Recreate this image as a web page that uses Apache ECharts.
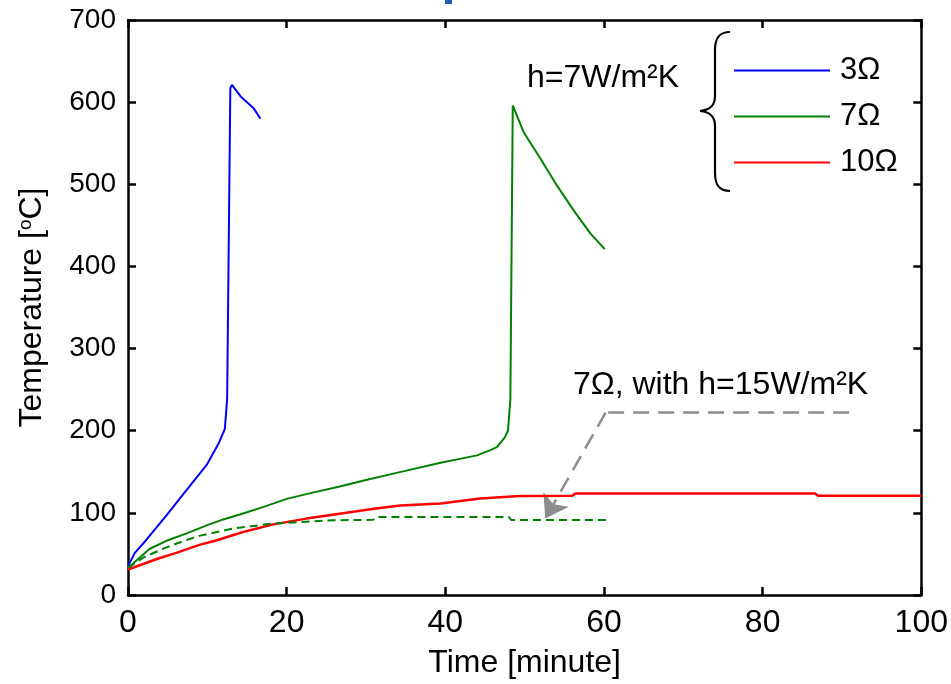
<!DOCTYPE html>
<html>
<head>
<meta charset="utf-8">
<script src="https://cdn.jsdelivr.net/npm/echarts@6/dist/echarts.min.js"></script>
<style>
  html, body { margin: 0; padding: 0; background: #fff; }
  #chart { width: 951px; height: 684px; }
</style>
</head>
<body>
<div id="chart"></div>
<script>
// 3 ohm, h=7 (time [min], temperature [C])
const blue3 = [[0,35],[0.84,51],[2.3,67],[4.85,97],[7.4,128],[9.9,158],[11.4,184],[12.2,202],[12.4,226],[12.5,240],[12.9,617],[13.1,621],[14.2,607],[15.8,593],[16.7,580]]
// 7 ohm, h=7
const green7 = [[0,33],[2.7,56],[4.85,66],[7.4,75],[10,85],[12,92],[14.1,98],[17,107],[20,117],[23,124],[26.7,132],[30,140],[34,149],[39.4,161],[42,166],[44,170],[45.6,176],[46.5,180],[47.5,192],[47.9,200],[48.2,238],[48.5,596],[49.9,563],[52,531],[54.1,498],[56.2,468],[58.3,440],[60.1,421]]
// 10 ohm, h=7
const red10 = [[0,31],[2,38],[4,45],[6,51],[9,61],[11,66],[13.3,73],[15,78],[18.3,86],[22.5,93],[26,98],[31,105],[34.3,109],[39.4,111.5],[44.4,117.5],[49.4,120.5],[56,120.7],[56.4,123.5],[86.6,123.5],[87,120.7],[100,120.7]]
// 7 ohm, h=15 (dashed)
const green7h15 = [[0,33],[2,46],[4.85,58],[7.4,67],[9,72],[13.3,81],[18.3,87],[22,89],[25.9,91],[30.9,91.5],[31.3,95],[48,95],[48.3,91.3],[60.4,91.3]]
// annotation arrow: horizontal leader, then slanted part ending in the arrow head
const leaderLine = [[90.9,222],[60.2,222]]
const arrowLine = [[60.2,222],[52.6,93]]

const legendNames = ['3Ω', '7Ω', '10Ω']

const chart = echarts.init(document.getElementById('chart'))
const font = 'Liberation Sans, Arial, sans-serif'
const narrow = 'Liberation Sans Narrow, Arial Narrow, sans-serif'

const line = () => ({ show: true, onZero: false, lineStyle: { color: '#000', width: 2.5 } })
const tick = () => ({ show: true, inside: true, length: 8, lineStyle: { color: '#000', width: 2.5 } })

// curly brace next to the legend
const braceStyle = { stroke: '#000', lineWidth: 2.2, fill: null }
const brace = [
  { type: 'bezierCurve', shape: { x1: 730, y1: 32, cpx1: 719, cpy1: 32, cpx2: 715, cpy2: 38, x2: 715, y2: 50 }, style: braceStyle },
  { type: 'line', shape: { x1: 715, y1: 50, x2: 715, y2: 96 }, style: braceStyle },
  { type: 'bezierCurve', shape: { x1: 715, y1: 96, cpx1: 715, cpy1: 106, cpx2: 710, cpy2: 110, x2: 700, y2: 111 }, style: braceStyle },
  { type: 'bezierCurve', shape: { x1: 700, y1: 111, cpx1: 710, cpy1: 112, cpx2: 715, cpy2: 116, x2: 715, y2: 126 }, style: braceStyle },
  { type: 'line', shape: { x1: 715, y1: 126, x2: 715, y2: 173 }, style: braceStyle },
  { type: 'bezierCurve', shape: { x1: 715, y1: 173, cpx1: 715, cpy1: 185, cpx2: 719, cpy2: 191, x2: 730, y2: 191 }, style: braceStyle }
]

const arrowStyle = { color: '#8c8c8c', width: 2.5, type: [16, 9], opacity: 1 }

chart.setOption({
  animation: false,
  grid: { left: 128, right: 28, top: 20, bottom: 88.5, containLabel: false },
  legend: {
    data: legendNames,
    orient: 'vertical',
    left: 729,
    top: 50,
    icon: 'rect',
    itemWidth: 96,
    itemHeight: 2,
    itemGap: 15,
    textStyle: { fontFamily: font, fontSize: 31, color: '#000', lineHeight: 31, padding: [0, 0, 0, 5] }
  },
  xAxis: [
    {
      type: 'value', min: 0, max: 100, interval: 20,
      name: 'Time [minute]', nameLocation: 'middle', nameGap: 52,
      nameTextStyle: { fontFamily: narrow, fontSize: 32, color: '#000' },
      axisLine: line(), axisTick: tick(),
      axisLabel: { fontFamily: narrow, fontSize: 32, color: '#000', margin: 12 },
      splitLine: { show: false }
    },
    {
      type: 'value', min: 0, max: 100, interval: 20, position: 'top',
      axisLine: line(), axisTick: tick(), axisLabel: { show: false }, splitLine: { show: false }
    }
  ],
  yAxis: [
    {
      type: 'value', min: 0, max: 700, interval: 100,
      name: 'Temperature [{s|o}C]', nameLocation: 'middle', nameGap: 80,
      nameTextStyle: { fontFamily: font, fontSize: 32, color: '#000',
        rich: { s: { fontFamily: font, fontSize: 19, color: '#000', verticalAlign: 'top', padding: [0, 0, 12, 0] } } },
      axisLine: line(), axisTick: tick(),
      axisLabel: { fontFamily: font, fontSize: 28, color: '#000', margin: 12 },
      splitLine: { show: false }
    },
    {
      type: 'value', min: 0, max: 700, interval: 100, position: 'right',
      axisLine: line(), axisTick: tick(), axisLabel: { show: false }, splitLine: { show: false }
    }
  ],
  series: [
    { name: '3Ω', type: 'line', data: blue3, showSymbol: false, color: '#0000ff', lineStyle: { width: 2, color: '#0000ff' } },
    { name: '7Ω', type: 'line', data: green7, showSymbol: false, color: '#008000', lineStyle: { width: 2, color: '#008000' } },
    { name: '10Ω', type: 'line', data: red10, showSymbol: false, color: '#ff0000', lineStyle: { width: 2.5, color: '#ff0000' } },
    { name: '7Ω h15', type: 'line', data: green7h15, showSymbol: false, color: '#008000', lineStyle: { width: 2, color: '#008000', type: [8, 5] } },
    {
      type: 'lines', coordinateSystem: 'cartesian2d', silent: true,
      symbol: ['none', 'none'], lineStyle: arrowStyle,
      data: [{ coords: leaderLine }]
    },
    {
      type: 'lines', coordinateSystem: 'cartesian2d', silent: true,
      symbol: ['none', 'arrow'], symbolSize: [17, 22], lineStyle: arrowStyle,
      data: [{ coords: arrowLine }]
    }
  ],
  graphic: [
    { type: 'rect', shape: { x: 445, y: 0, width: 7, height: 4 }, style: { fill: '#1f5fb0' } },
    { type: 'text', left: 527, top: 62, style: { text: 'h=7W/m²K', font: '32px ' + font, fill: '#000' } },
    { type: 'text', left: 573, top: 369, style: { text: '7Ω, with h=15W/m²K', font: '32px ' + font, fill: '#000' } }
  ].concat(brace)
})
</script>
</body>
</html>
